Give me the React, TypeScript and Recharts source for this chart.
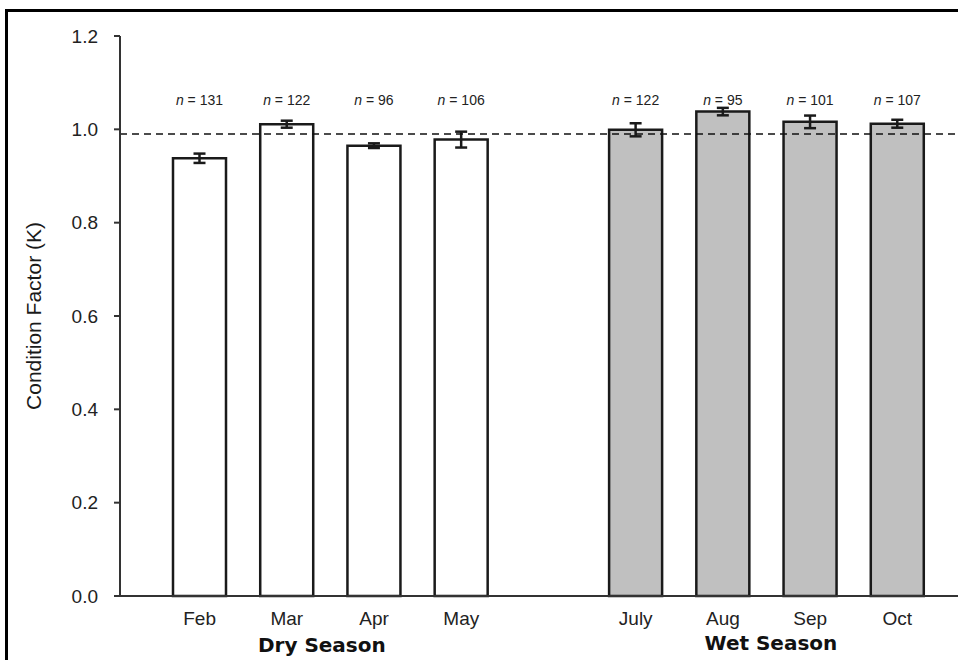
import React from 'react';
import { BarChart, Bar, XAxis, YAxis, ErrorBar, ReferenceLine, Cell, LabelList, Label } from 'recharts';

const months = ['Feb', 'Mar', 'Apr', 'May', ' ', 'July', 'Aug', 'Sep', 'Oct'];
const seasons = ['Dry', 'Dry', 'Dry', 'Dry', '', 'Wet', 'Wet', 'Wet', 'Wet'];
const means: (number | null)[] = [0.938, 1.011, 0.965, 0.978, null, 0.999, 1.038, 1.016, 1.012];
const errors: (number | null)[] = [0.01, 0.0075, 0.005, 0.017, null, 0.014, 0.008, 0.0135, 0.0085];
const nCounts: (number | null)[] = [131, 122, 96, 106, null, 122, 95, 101, 107];
const yTicks = [0, 0.2, 0.4, 0.6, 0.8, 1.0, 1.2];
const referenceK = 0.99;
const nLabelLevel = 1.062;
const seasonLabels = ['Dry Season', 'Wet Season'];
const seasonAnchorMonths = ['Mar', 'Aug'];

const data = months.map((m, i) => ({
  month: m,
  season: seasons[i],
  k: means[i],
  err: errors[i],
  n: nCounts[i],
}));

const FONT = '"Liberation Sans", Arial, sans-serif';

const MonthTick = (props: any) => {
  const { x, y, payload } = props;
  const label = String(payload.value);
  const si = seasonAnchorMonths.indexOf(label);
  const seasonDx = si === 0 ? 35 : 48;
  const seasonDy = si === 0 ? 49 : 47;
  return (
    <g>
      {label.trim() !== '' && (
        <text x={x} y={y + 22} textAnchor="middle" dominantBaseline="central" fontFamily={FONT} fontSize={19} fill="#222">
          {label}
        </text>
      )}
      {si >= 0 && (
        <text x={x + seasonDx} y={y + seasonDy} textAnchor="middle" dominantBaseline="central" fontFamily='"DejaVu Sans", Verdana, sans-serif' fontWeight="bold" fontSize={20} fill="#111">
          {seasonLabels[si]}
        </text>
      )}
    </g>
  );
};

const NLabel = (props: any) => {
  const { x, y, width, height, value } = props;
  const idx = months.indexOf(String(value));
  if (idx < 0) return null;
  const v = means[idx];
  const n = nCounts[idx];
  if (v == null || n == null) return null;
  const base = Number(y) + Number(height);
  const ly = base - Number(height) * (nLabelLevel / v);
  return (
    <text x={Number(x) + Number(width) / 2} y={ly} textAnchor="middle" dominantBaseline="central" fontFamily={FONT} fontSize={14} fill="#222">
      <tspan fontStyle="italic">n</tspan>
      <tspan> = {n}</tspan>
    </text>
  );
};

const YTitle = (props: any) => {
  const vb = props.viewBox || {};
  const cy = vb.y + vb.height / 2;
  const cx = 25;
  return (
    <text x={cx} y={cy} transform={`rotate(-90 ${cx} ${cy})`} textAnchor="middle" dominantBaseline="central" fontFamily={FONT} fontSize={21} fill="#1a1a1a">
      Condition Factor (K)
    </text>
  );
};

export default function App() {
  return (
    <div
      style={{
        position: 'absolute',
        left: 5,
        top: 9,
        width: 950,
        height: 648,
        borderLeft: '3px solid #000',
        borderTop: '3px solid #000',
        background: '#fff',
      }}
    >
      <BarChart width={950} height={646} data={data} margin={{ top: 24, right: 0, bottom: 0, left: 0 }}>
        <XAxis
          dataKey="month"
          height={62}
          padding={{ left: 36, right: 17 }}
          axisLine={{ stroke: '#333', strokeWidth: 2 }}
          tickLine={false}
          tickSize={0}
          tickMargin={0}
          interval={0}
          tick={<MonthTick />}
        />
        <YAxis
          width={112}
          domain={[0, 1.2]}
          ticks={yTicks}
          interval={0}
          tickFormatter={(v: number) => v.toFixed(1)}
          axisLine={{ stroke: '#333', strokeWidth: 2 }}
          tickLine={{ stroke: '#333', strokeWidth: 2 }}
          tickSize={6}
          tickMargin={16}
          tick={{ fontFamily: FONT, fontSize: 19, fill: '#222' }}
        >
          <Label content={<YTitle />} />
        </YAxis>
        <Bar dataKey="k" barSize={53} stroke="#1a1a1a" strokeWidth={2.5} isAnimationActive={false}>
          {data.map((d, i) => (
            <Cell key={i} fill={d.season === 'Wet' ? '#c0c0c0' : '#ffffff'} />
          ))}
          <ErrorBar dataKey="err" width={6} stroke="#1a1a1a" strokeWidth={2.5} direction="y" />
          <LabelList dataKey="month" content={<NLabel />} />
        </Bar>
        <ReferenceLine y={referenceK} stroke="#111" strokeWidth={1.5} strokeDasharray="7 5" />
      </BarChart>
    </div>
  );
}
